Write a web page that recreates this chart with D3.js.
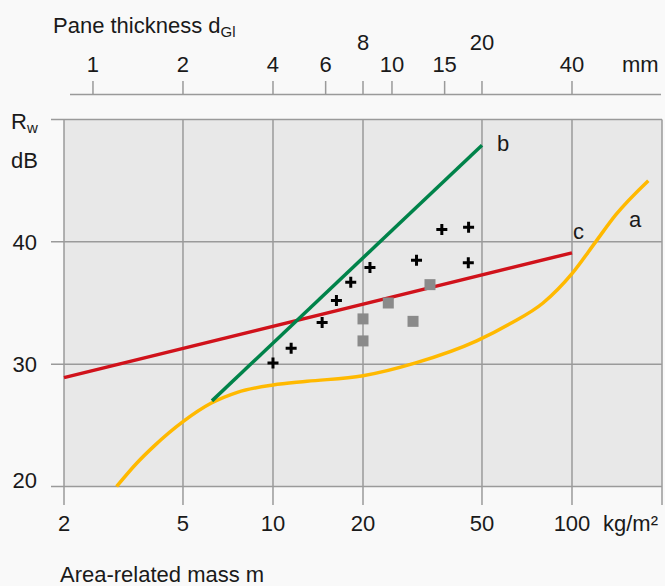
<!DOCTYPE html>
<html>
<head>
<meta charset="utf-8">
<script src="https://cdn.jsdelivr.net/npm/d3@7"></script>
<style>
  body { margin: 0; background: #f9f9f9; }
  svg text { font-family: "Liberation Sans", Arial, sans-serif; fill: #1a1a1a; }
</style>
</head>
<body>
<svg id="chart"></svg>
<script>
// Canvas and plot frame
const width = 665;
const height = 586;
const plot = { left: 64, right: 662, top: 119.5, bottom: 486.5 };

// Axis ticks
const massTicks = [2, 5, 10, 20, 50, 100, 200];
const massLabels = [2, 5, 10, 20, 50, 100];
const dbTicks = [20, 30, 40, 50];
const dbLabels = [20, 30, 40];
const thicknessTicks = [1, 2, 4, 6, 8, 10, 15, 20, 40];
const raisedThickness = [8, 20];
const kgPerMm = 2.5; // glass: 2.5 kg/m² per mm

// Curves [mass kg/m², Rw dB]
const curveA = [
  [3, 20], [3.5, 21.9], [4, 23.3], [5, 25.3], [6.2, 26.8], [7.6, 27.7], [10, 28.3],
  [13, 28.6], [20, 29.05], [30, 30.1], [48, 31.9], [62, 33.3], [80, 35],
  [100, 37.4], [120, 40], [140, 42.2], [180, 45]
];
const lineB = [[6.25, 27], [50, 47.9]];
const lineC = [[2, 28.9], [100, 39.1]];

// Measured values
const crosses = [
  [10, 30.1], [11.5, 31.3], [14.6, 33.4], [16.3, 35.2], [18.2, 36.7],
  [21.1, 37.9], [30.2, 38.5], [36.7, 41], [45.1, 41.2], [45, 38.3]
];
const squares = [
  [20, 33.7], [20, 31.9], [24.3, 35], [29.4, 33.5], [33.5, 36.5]
];

const svg = d3.select("#chart")
  .attr("width", width)
  .attr("height", height);

const x = d3.scaleLog()
  .domain([2, 200])
  .range([plot.left, plot.right]);

const y = d3.scaleLinear()
  .domain([20, 50])
  .range([plot.bottom, plot.top]);

// plot background
svg.append("rect")
  .attr("x", plot.left)
  .attr("y", plot.top)
  .attr("width", plot.right - plot.left)
  .attr("height", plot.bottom - plot.top)
  .attr("fill", "#e8e8e8");

const grid = svg.append("g")
  .attr("stroke", "#9a9a9a")
  .attr("stroke-width", 1.5);

grid.selectAll(".hgrid")
  .data(dbTicks)
  .enter()
  .append("line")
  .attr("x1", 51)
  .attr("x2", plot.right)
  .attr("y1", d => y(d))
  .attr("y2", d => y(d));

grid.selectAll(".vgrid")
  .data(massTicks)
  .enter()
  .append("line")
  .attr("x1", d => x(d))
  .attr("x2", d => x(d))
  .attr("y1", plot.top)
  .attr("y2", 505);

// bottom labels
svg.selectAll(".xlabel")
  .data(massLabels)
  .enter()
  .append("text")
  .attr("x", d => x(d))
  .attr("y", 531)
  .attr("text-anchor", "middle")
  .attr("font-size", 22)
  .text(d => d);

svg.append("text")
  .attr("x", 603)
  .attr("y", 531)
  .attr("font-size", 22)
  .text("kg/m²");

svg.append("text")
  .attr("x", 60)
  .attr("y", 582)
  .attr("font-size", 22)
  .text("Area-related mass m");

// left labels
svg.selectAll(".ylabel")
  .data(dbLabels)
  .enter()
  .append("text")
  .attr("x", 37)
  .attr("y", d => y(d))
  .attr("dy", d => d === 20 ? "0.05em" : "0.35em")
  .attr("text-anchor", "end")
  .attr("font-size", 22)
  .text(d => d);

const rw = svg.append("text")
  .attr("x", 11)
  .attr("y", 129)
  .attr("font-size", 22);
rw.append("tspan").text("R");
rw.append("tspan").attr("font-size", 15).attr("dy", 4).text("w");

svg.append("text")
  .attr("x", 11)
  .attr("y", 168)
  .attr("font-size", 22)
  .text("dB");

// top axis: pane thickness
const topAxis = svg.append("g");

topAxis.append("line")
  .attr("x1", 70)
  .attr("x2", 661)
  .attr("y1", 94.5)
  .attr("y2", 94.5)
  .attr("stroke", "#9a9a9a")
  .attr("stroke-width", 1.5);

topAxis.selectAll(".ttick")
  .data(thicknessTicks)
  .enter()
  .append("line")
  .attr("x1", d => x(d * kgPerMm))
  .attr("x2", d => x(d * kgPerMm))
  .attr("y1", 81)
  .attr("y2", 94.5)
  .attr("stroke", "#9a9a9a")
  .attr("stroke-width", 1.5);

topAxis.selectAll(".tlabel")
  .data(thicknessTicks)
  .enter()
  .append("text")
  .attr("x", d => x(d * kgPerMm))
  .attr("y", d => raisedThickness.includes(d) ? 50 : 72)
  .attr("text-anchor", "middle")
  .attr("font-size", 22)
  .text(d => d);

topAxis.append("text")
  .attr("x", 622)
  .attr("y", 72)
  .attr("font-size", 22)
  .text("mm");

const pane = svg.append("text")
  .attr("x", 53)
  .attr("y", 33)
  .attr("font-size", 22);
pane.append("tspan").text("Pane thickness d");
pane.append("tspan").attr("font-size", 15).attr("dy", 4).text("Gl");

// curves
const line = d3.line()
  .x(d => x(d[0]))
  .y(d => y(d[1]));

svg.append("path")
  .datum(lineC)
  .attr("d", line)
  .attr("fill", "none")
  .attr("stroke", "#d0121b")
  .attr("stroke-width", 3.5);

svg.append("path")
  .datum(curveA)
  .attr("d", line.curve(d3.curveMonotoneX))
  .attr("fill", "none")
  .attr("stroke", "#ffb900")
  .attr("stroke-width", 3.5);

svg.append("path")
  .datum(lineB)
  .attr("d", d3.line().x(d => x(d[0])).y(d => y(d[1])))
  .attr("fill", "none")
  .attr("stroke", "#00834a")
  .attr("stroke-width", 3.5);

// markers
svg.selectAll(".square")
  .data(squares)
  .enter()
  .append("rect")
  .attr("x", d => x(d[0]) - 5.5)
  .attr("y", d => y(d[1]) - 5.5)
  .attr("width", 11)
  .attr("height", 11)
  .attr("fill", "#8a8a8a");

svg.selectAll(".cross")
  .data(crosses)
  .enter()
  .append("path")
  .attr("transform", d => `translate(${x(d[0])}, ${y(d[1])})`)
  .attr("d", "M-5.5,0H5.5M0,-5.5V5.5")
  .attr("stroke", "#000")
  .attr("stroke-width", 3);

// curve names
svg.append("text").attr("x", 629).attr("y", 227).attr("font-size", 22).text("a");
svg.append("text").attr("x", 497).attr("y", 151).attr("font-size", 22).text("b");
svg.append("text").attr("x", 573).attr("y", 239).attr("font-size", 22).text("c");
</script>
</body>
</html>
